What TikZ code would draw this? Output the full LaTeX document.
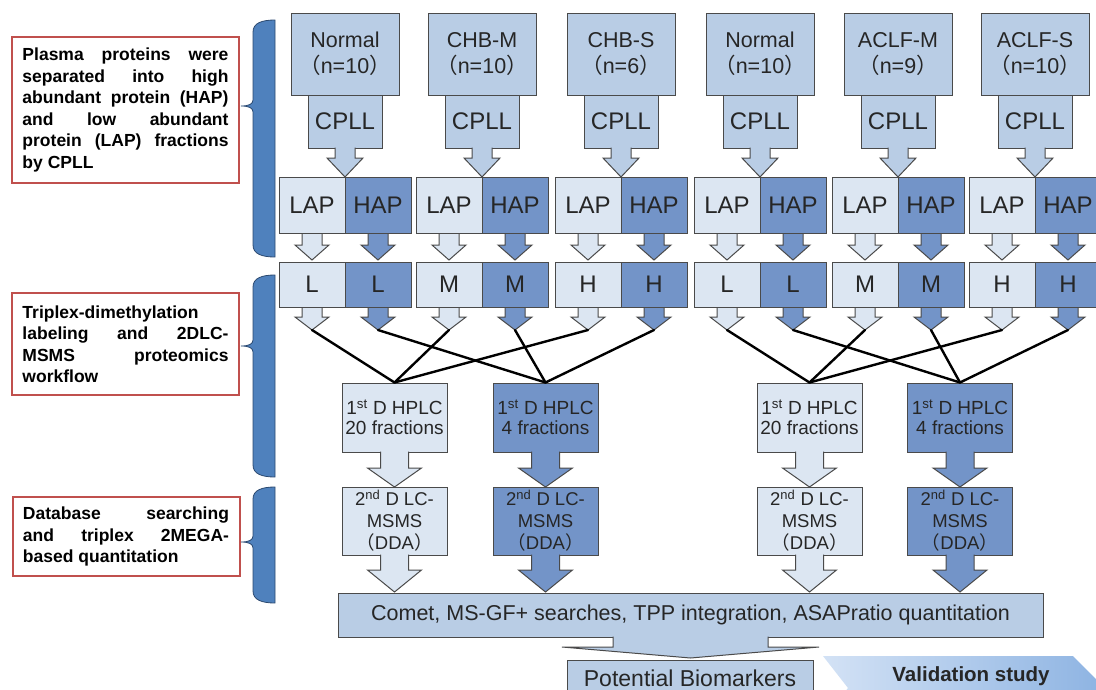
\documentclass[tikz,border=0pt]{standalone}
\usepackage{fontspec}
\setmainfont{Liberation Sans}
\newfontfamily\cjk{Noto Sans CJK SC}

% block arrow: fill colour, x, top, shoulder, tip, stem half width, head half width
\newcommand{\blockarrow}[7]{%
  \fill[#1] (#2-#6,#3) -- (#2+#6,#3) -- (#2+#6,#4) -- (#2+#7,#4) -- (#2,#5)
    -- (#2-#7,#4) -- (#2-#6,#4) -- cycle;
  \draw[edgecolor, line width=1pt] (#2-#6,#3) -- (#2-#6,#4) -- (#2-#7,#4) -- (#2,#5)
    -- (#2+#7,#4) -- (#2+#6,#4) -- (#2+#6,#3);}

\begin{document}
\begin{tikzpicture}[x=1pt, y=-1pt, line join=miter,
		% Styles
		box/.style={draw=edgecolor, line width=1pt, text=textcolor, inner sep=0pt, align=center},
		groupbox/.style={box, fill=groupcolor, minimum width=108pt, minimum height=82pt, font=\fontsize{21.5}{26}\selectfont},
		cpllbox/.style={box, fill=groupcolor, minimum width=74pt, minimum height=53pt, font=\fontsize{24}{28}\selectfont},
		fracbox/.style={box, minimum width=66pt, font=\fontsize{24}{28}\selectfont},
		hplcbox/.style={box, minimum width=105pt, minimum height=69pt, font=\fontsize{19}{20}\selectfont},
		msbox/.style={box, minimum width=105pt, minimum height=68pt, font=\fontsize{18.5}{22}\selectfont},
		notebox/.style={draw=notecolor, line width=2pt, fill=white, text=black, text width=206pt, inner xsep=10.5pt, inner ysep=0pt, align=justify,
			font=\fontsize{17.5}{21.5}\selectfont\bfseries, execute at begin node={\tolerance=10000\hyphenpenalty=10000}},
		brace/.style={fill=bracecolor, draw=braceedge, line width=0.8pt},
		link/.style={line width=2.4pt, line cap=round}
		]
		
		% Colors
		\definecolor{groupcolor}{HTML}{B9CDE5}
		\definecolor{lapcolor}{HTML}{DCE6F2}
		\definecolor{hapcolor}{HTML}{7394C8}
		\definecolor{edgecolor}{HTML}{4A4A4A}
		\definecolor{textcolor}{HTML}{262626}
		\definecolor{notecolor}{HTML}{C0504D}
		\definecolor{bracecolor}{HTML}{4F81BD}
		\definecolor{braceedge}{HTML}{2C4A70}
		\definecolor{validleft}{HTML}{D3E2F5}
		\definecolor{validright}{HTML}{8DB3E2}
		
		\useasboundingbox (0,0) rectangle (1096,689);
		\clip (0,0) rectangle (1096,689);
		
		% Notes on the left
		\node[notebox, minimum height=146pt] (note1) at (125.5,110) {Plasma proteins were\linebreak separated into high\linebreak abundant protein (HAP)\linebreak and low abundant\linebreak protein (LAP) fractions\linebreak by CPLL};
		\node[notebox, minimum height=102pt] (note2) at (125.5,344) {Triplex-dimethylation\\ labeling and 2DLC-\linebreak MSMS proteomics\linebreak workflow};
		\node[notebox, minimum height=79pt] (note3) at (126,536.5) {Database searching\linebreak and triplex 2MEGA-\linebreak based quantitation};
		
		% Braces
		\foreach \ya/\yt/\yb in {20/106/257, 275/346/477, 487/542/603}
			\filldraw[brace] (275,\ya) .. controls (262,\ya) and (253,\ya+3) .. (253,\ya+12)
				-- (253,\yt-6) .. controls (253,\yt-2) and (249,\yt) .. (241,\yt)
				.. controls (249,\yt) and (253,\yt+2) .. (253,\yt+6)
				-- (253,\yb-12) .. controls (253,\yb-3) and (262,\yb) .. (275,\yb) -- cycle;
		
		% Sample groups, CPLL, fractions and labels
		\foreach \s/\grp/\n/\lab [count=\i] in {345/Normal/10/L, 482/CHB-M/10/M, 621/CHB-S/6/H, 760/Normal/10/L, 898/ACLF-M/9/M, 1035/ACLF-S/10/H}
		{
			\blockarrow{lapcolor}{\s-33}{233}{245}{260}{10}{17}
			\blockarrow{hapcolor}{\s+33}{233}{245}{260}{10}{17}
			\blockarrow{lapcolor}{\s-33}{307}{317}{330}{10}{17}
			\blockarrow{hapcolor}{\s+33}{307}{317}{330}{10}{17}
			\coordinate (lt\i) at (\s-33,330);
			\coordinate (dt\i) at (\s+33,330);
			\node[groupbox] (grp\i) at (\s,54) {\grp\\{\cjk （}n=\n{\cjk ）}};
			\node[cpllbox] (cpll\i) at (\s,121.5) {CPLL};
			\blockarrow{groupcolor}{\s}{147.5}{158}{177}{10}{18}
			\node[fracbox, fill=lapcolor, minimum height=56pt] (lap\i) at (\s-33,205) {LAP};
			\node[fracbox, fill=hapcolor, minimum height=56pt] (hap\i) at (\s+33,205) {HAP};
			\node[fracbox, fill=lapcolor, minimum height=45pt] (lablap\i) at (\s-33,284.5) {\lab};
			\node[fracbox, fill=hapcolor, minimum height=45pt] (labhap\i) at (\s+33,284.5) {\lab};
		}
		
		% 1st D HPLC and 2nd D LC-MSMS
		\foreach \x/\c/\f [count=\j] in {394.5/lapcolor/20, 545.5/hapcolor/4, 809.5/lapcolor/20, 960/hapcolor/4}
		{
			\node[hplcbox, fill=\c] (hplc\j) at (\x,417.5) {1\textsuperscript{st} D HPLC\\\f{} fractions};
			\blockarrow{\c}{\x}{451.5}{468}{487}{14}{27}
			\node[msbox, fill=\c] (ms\j) at (\x,521) {2\textsuperscript{nd} D LC-\\MSMS\\{\cjk （}DDA{\cjk ）}};
			\blockarrow{\c}{\x}{554.5}{570}{592}{14}{27}
		}
		
		% Mixing lines
		\foreach \i in {1,2,3} {
			\draw[link] (lt\i) -- (hplc1.north);
			\draw[link] (dt\i) -- (hplc2.north);
		}
		\foreach \i in {4,5,6} {
			\draw[link] (lt\i) -- (hplc3.north);
			\draw[link] (dt\i) -- (hplc4.north);
		}
		
		% Search and result
		\node[box, fill=groupcolor, minimum width=705pt, minimum height=44pt, font=\fontsize{21.5}{26}\selectfont] (search) at (690.5,615) {Comet, MS-GF+ searches, TPP integration, ASAPratio quantitation};
		\blockarrow{groupcolor}{690.5}{636.5}{647}{658}{77.5}{128.5}
		\node[box, fill=groupcolor, minimum width=246pt, minimum height=36pt, font=\fontsize{23}{26}\selectfont] (biomarker) at (690,678) {Potential Biomarkers};
		
		\shade[left color=validleft, right color=validright] (823,656) -- (1073,656) -- (1105,688) -- (1073,720) -- (823,720) -- (848,688) -- cycle;
		\node[font=\fontsize{20.5}{24}\selectfont\bfseries, text=textcolor] (valid) at (971,676) {Validation study};
		
	\end{tikzpicture}
\end{document}
